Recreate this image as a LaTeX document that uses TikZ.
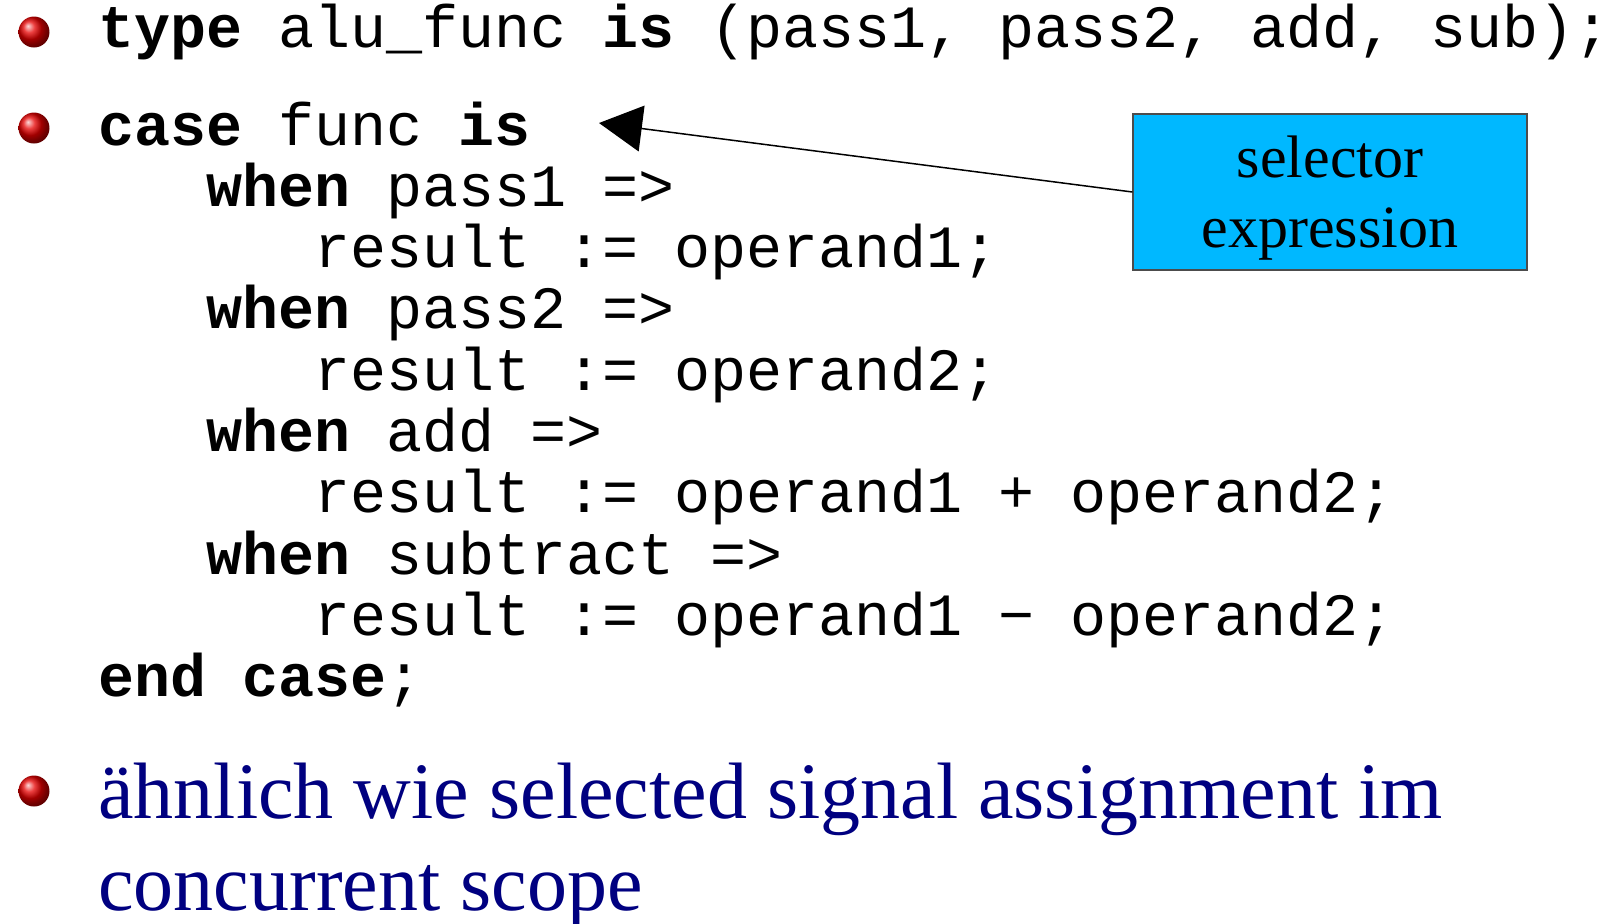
\documentclass[tikz,border=0pt]{standalone}
\usepackage{xcolor}
\usepackage{fontspec}
\setmainfont{Liberation Serif}
\setmonofont{Liberation Mono}
\usepackage{tikz}
\usetikzlibrary{arrows.meta}

\definecolor{selblue}{RGB}{0,184,255}
\definecolor{slidenavy}{RGB}{0,0,128}
\newcommand{\kw}[1]{\textbf{#1}}

\begin{document}
\begin{tikzpicture}[x=0.5pt, y=-0.5pt,
		code/.style={anchor=base west, inner sep=0pt, font=\fontsize{30}{36}\selectfont\ttfamily},
		bullet/.style={circle, inner sep=0pt, minimum size=15.5pt, ball color=red!90!black},
		remark/.style={anchor=base west, inner sep=0pt, text=slidenavy, font=\fontsize{40}{46}\selectfont},
		selbox/.style={draw=black!70, line width=0.6pt, fill=selblue, minimum width=197pt, minimum height=78pt, inner sep=0pt},
		seltext/.style={anchor=base, inner sep=0pt, font=\fontsize{30}{35}\selectfont}]
		\useasboundingbox (0,0) rectangle (1612,923);

		\node[bullet] (b1) at (34,32) {};
		\node[code] (typeline) at (98,47.5) {\kw{type} alu\_func \kw{is} (pass1, pass2, add, sub);};

		\node[bullet] (b2) at (34,128) {};
		\node[code] (caseline) at (98,145) {\kw{case} func \kw{is}};
		\node[code] (w1) at (206,206.3) {\kw{when} pass1 =>};
		\node[code] (r1) at (314,267.6) {result := operand1;};
		\node[code] (w2) at (206,328.9) {\kw{when} pass2 =>};
		\node[code] (r2) at (314,390.2) {result := operand2;};
		\node[code] (w3) at (206,451.5) {\kw{when} add =>};
		\node[code] (r3) at (314,512.8) {result := operand1 + operand2;};
		\node[code] (w4) at (206,574.1) {\kw{when} subtract =>};
		\node[code] (r4) at (314,635.4) {result := operand1 − operand2;};
		\node[code] (endline) at (98,696.7) {\kw{end case};};

		\node[bullet] (b3) at (34,791) {};
		\node[remark] (rem1) at (98,818) {ähnlich wie selected signal assignment im};
		\node[remark] (rem2) at (98,910) {concurrent scope};

		\node[selbox] (sel) at (1330,192) {};
		\node[seltext] (sel1) at (1330,177) {selector};
		\node[seltext] (sel2) at (1330,247) {expression};
		\coordinate (seltip) at (599,123);
		\draw[line width=0.75pt, -{Triangle[length=21.5pt, width=23pt]}] (sel.west) -- (seltip);
	\end{tikzpicture}
\end{document}
